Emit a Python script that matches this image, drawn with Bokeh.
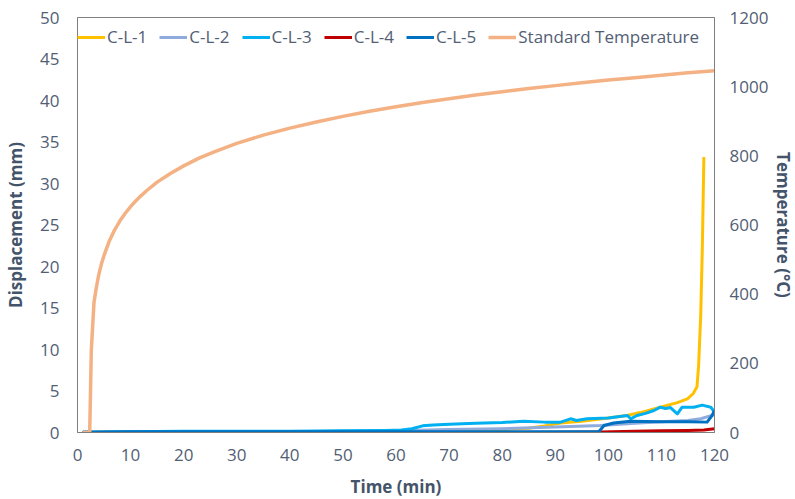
from bokeh.plotting import figure
from bokeh.models import Range1d, LinearAxis, FixedTicker, Legend, LegendItem
from bokeh.embed import file_html
from bokeh.resources import INLINE

# ---- data ----
t_std = [1, 2.3, 2.6, 3.1, 3.5, 4, 4.5, 5, 6, 7, 8, 9, 10, 11, 12, 13, 15, 17.5, 20, 23, 26, 30, 35, 40, 45, 50, 55, 60, 65, 70, 75, 80, 85, 90, 95, 100, 105, 110, 115, 120]
temp_std = [0, 0, 237, 375, 415, 456, 487, 512, 554, 586, 612, 634, 653, 670, 685, 699, 724, 749, 771, 794, 813, 836, 860, 880, 898, 914, 929, 942, 954, 965, 976, 985, 995, 1003, 1011, 1019, 1026, 1033, 1040, 1046]

t1 = [1, 10, 20, 30, 40, 50, 60, 65, 70, 75, 80, 85, 88, 91, 95, 100, 103.5, 106, 109.8, 113, 114.9, 116, 116.7, 117, 117.4, 117.7, 118]
d1 = [0, 0.05, 0.05, 0.1, 0.1, 0.1, 0.15, 0.2, 0.25, 0.3, 0.35, 0.5, 0.8, 1.15, 1.35, 1.75, 2.05, 2.4, 3.05, 3.6, 4.05, 4.7, 5.5, 8.0, 14, 22, 33.2]

t2 = [1, 10, 20, 30, 40, 50, 60, 70, 79.7, 90, 98.5, 105, 110, 115, 117.4, 120]
d2 = [0, 0.05, 0.1, 0.1, 0.1, 0.15, 0.2, 0.35, 0.45, 0.65, 0.85, 1.1, 1.3, 1.45, 1.65, 2.15]

t3 = [1, 10, 20, 30, 40, 50, 58, 61, 63, 65, 67, 70, 75, 80, 84, 88, 91, 92.9, 94, 96, 100, 103.6, 104.2, 105.4, 107, 108.6, 109.8, 110.8, 111.7, 113, 113.9, 116.1, 117.7, 119.3, 120]
d3 = [0, 0.1, 0.15, 0.15, 0.15, 0.2, 0.25, 0.3, 0.45, 0.8, 0.9, 1.0, 1.1, 1.2, 1.35, 1.25, 1.25, 1.65, 1.45, 1.65, 1.75, 2.05, 1.65, 2.05, 2.3, 2.65, 3.05, 2.9, 3.0, 2.25, 3.05, 3.05, 3.3, 3.05, 2.45]

t4 = [1, 20, 40, 60, 80, 98.5, 105, 110, 115, 118, 120]
d4 = [0, 0, 0, 0, 0, 0.05, 0.15, 0.2, 0.25, 0.3, 0.45]

t5 = [1, 10, 20, 30, 40, 50, 60, 70, 80, 90, 98.2, 99.2, 101, 104.2, 110, 115, 118.6, 119.5, 120]
d5 = [0.05, 0.08, 0.08, 0.08, 0.08, 0.08, 0.08, 0.08, 0.08, 0.08, 0.1, 0.85, 1.15, 1.35, 1.3, 1.3, 1.25, 2.0, 2.65]

names = ["C-L-1", "C-L-2", "C-L-3", "C-L-4", "C-L-5", "Standard Temperature"]
colors = ["#FFC000", "#8FAADC", "#00B0F0", "#C00000", "#0070C0", "#F4B183"]

x_ticks = list(range(0, 121, 10))
y_ticks = list(range(0, 51, 5))
y2_ticks = list(range(0, 1201, 200))

FONT = "Open Sans"
TICK_COLOR = "#525E74"
TITLE_COLOR = "#44546A"
AXIS_COLOR = "#7F7F7F"
FS = "17px"

p = figure(frame_width=637, frame_height=415, output_backend="svg", toolbar_location=None,
           x_range=Range1d(0, 120), y_range=Range1d(0, 50),
           min_border_left=77, min_border_right=80, min_border_top=17, min_border_bottom=66)
p.extra_y_ranges = {"temp": Range1d(0, 1200)}
p.grid.visible = False
p.outline_line_color = AXIS_COLOR
p.outline_line_width = 1
p.background_fill_color = "white"
p.border_fill_color = "white"

right_axis = LinearAxis(y_range_name="temp")
p.add_layout(right_axis, "right")

p.xaxis.ticker = FixedTicker(ticks=x_ticks)
p.yaxis[0].ticker = FixedTicker(ticks=y_ticks)
right_axis.ticker = FixedTicker(ticks=y2_ticks)

p.xaxis.axis_label = "Time (min)"
p.yaxis[0].axis_label = "Displacement (mm)"
right_axis.axis_label = "Temperature (°C)"

for ax in [p.xaxis[0], p.yaxis[0], right_axis]:
    ax.axis_line_color = AXIS_COLOR
    ax.major_tick_line_color = None
    ax.minor_tick_line_color = None
    ax.major_tick_out = 0
    ax.major_tick_in = 0
    ax.minor_tick_out = 0
    ax.major_label_text_font = FONT
    ax.major_label_text_font_size = FS
    ax.major_label_text_color = TICK_COLOR
    ax.axis_label_text_font = FONT
    ax.axis_label_text_font_size = FS
    ax.axis_label_text_font_style = "bold"
    ax.axis_label_text_color = TITLE_COLOR

p.xaxis.major_label_standoff = 16
p.xaxis.axis_label_standoff = 11
p.yaxis[0].major_label_standoff = 18
p.yaxis[0].axis_label_standoff = 10
right_axis.major_label_standoff = 15
right_axis.axis_label_standoff = 1

series = [(t1, d1), (t2, d2), (t3, d3), (t4, d4), (t5, d5)]
renderers = []
for (tx, dy), c in zip(series, colors[:5]):
    r = p.line(tx, dy, line_color=c, line_width=3, line_join="round")
    renderers.append(r)
r_std = p.line(t_std, temp_std, line_color=colors[5], line_width=3.5, y_range_name="temp", line_join="round")
renderers.append(r_std)

legend = Legend(items=[LegendItem(label=n, renderers=[r]) for n, r in zip(names, renderers)],
                orientation="horizontal", location=(0, 384))
legend.label_text_font = FONT
legend.label_text_font_size = FS
legend.label_text_color = TICK_COLOR
legend.glyph_width = 28
legend.glyph_height = 20
legend.label_standoff = 2
legend.spacing = 12
legend.padding = 3
legend.margin = 0
legend.border_line_color = None
legend.background_fill_alpha = 0
p.add_layout(legend, "center")

open("out.html", "w").write(file_html(p, INLINE))
